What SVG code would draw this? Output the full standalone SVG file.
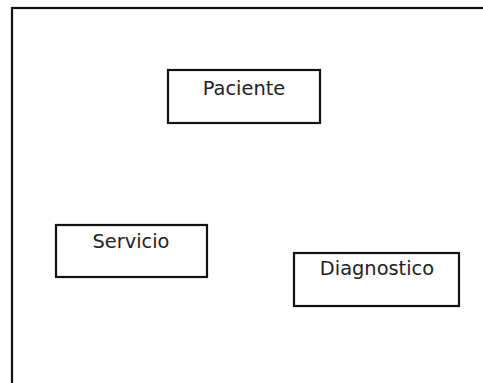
<svg xmlns="http://www.w3.org/2000/svg" width="483" height="383" viewBox="0 0 483 383">
  <style>
    .frame { fill: none; stroke: #111; stroke-width: 2.2; }
    .node rect { fill: #fff; stroke: #111; stroke-width: 2.2; }
    .node text { font-family: "DejaVu Sans", sans-serif; font-size: 19.4px; fill: #222; text-anchor: middle; }
  </style>
  <rect width="483" height="383" fill="#fff"/>
  <!-- outer frame, open past the right and bottom edges -->
  <rect class="frame" x="12" y="8" width="490" height="400"/>
  <g id="connectors"></g>
  <g id="paciente" class="node">
    <rect x="168" y="70" width="152" height="53"/>
    <text x="244" y="95">Paciente</text>
  </g>
  <g id="servicio" class="node">
    <rect x="56" y="225" width="151" height="52"/>
    <text x="131" y="248">Servicio</text>
  </g>
  <g id="diagnostico" class="node">
    <rect x="294" y="253" width="165" height="53"/>
    <text x="377" y="275">Diagnostico</text>
  </g>
</svg>
